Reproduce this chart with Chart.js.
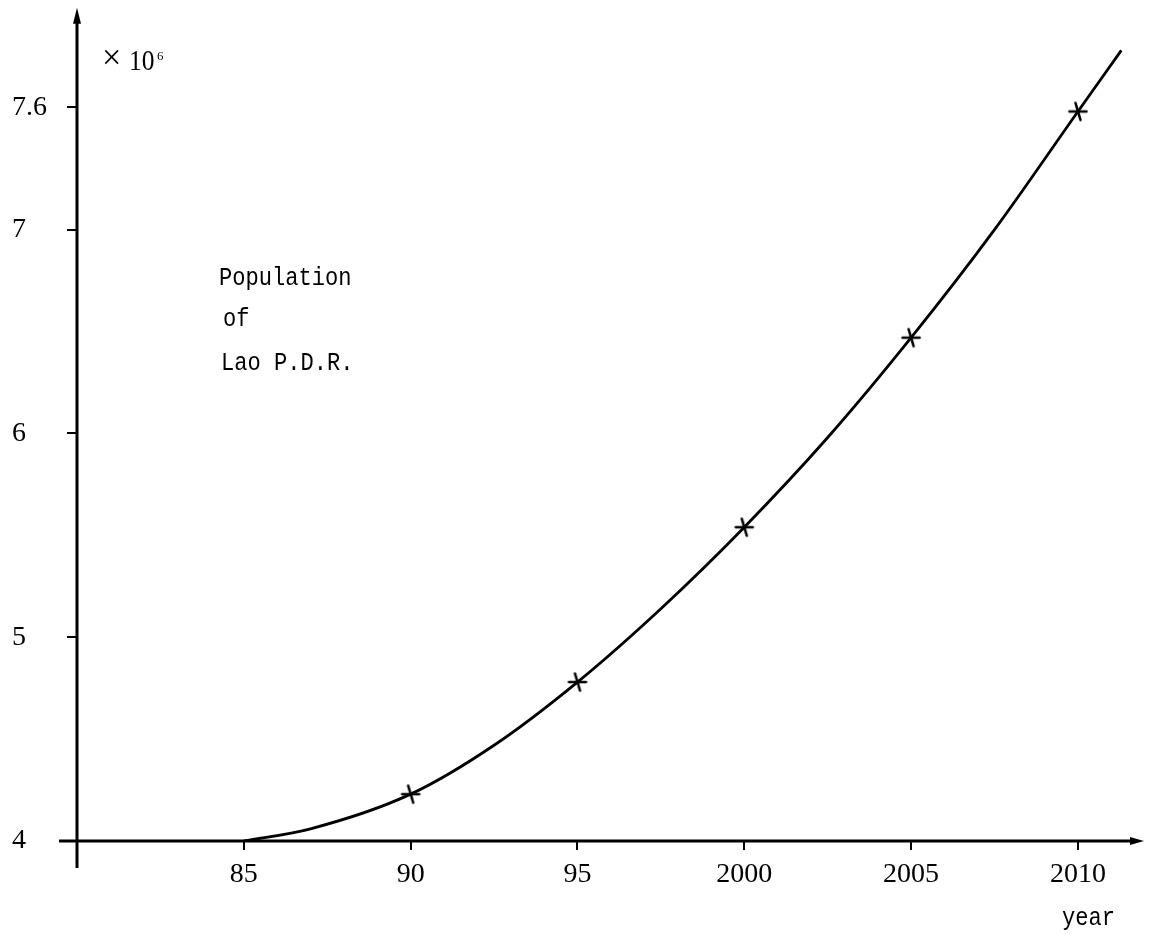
<!DOCTYPE html>
<html>
<head>
<meta charset="utf-8">
<script src="https://cdn.jsdelivr.net/npm/chart.js@4.4.1/dist/chart.umd.min.js"></script>
<style>
  html, body { margin: 0; padding: 0; background: #fff; }
  #wrap { width: 1149px; height: 934px; position: relative; }
</style>
</head>
<body>
<div id="wrap"><canvas id="c"></canvas></div>
<script>
// ---- data ----
const curveYears = [1985, 1987, 1990, 1992.5, 1995, 1997.5, 2000, 2002.5, 2005, 2007.5, 2010, 2011.3];
const curveValues = [4.00, 4.06, 4.23, 4.47, 4.78, 5.14, 5.54, 5.98, 6.47, 7.00, 7.58, 7.88];
const markerYears = [1990, 1995, 2000, 2005, 2010];
const markerValues = [4.23, 4.78, 5.54, 6.47, 7.58];
const xTickValues = [1985, 1990, 1995, 2000, 2005, 2010];
const xTickLabels = ['85', '90', '95', '2000', '2005', '2010'];
const yTickValues = [4, 5, 6, 7, 7.6];
const yTickLabels = ['4', '5', '6', '7', '7.6'];
const titleLines = ['Population', 'of', 'Lao P.D.R.'];
const unitSign = '\u00d7';
const unitBase = '10';
const unitExp = '6';
const xAxisName = 'year';

// ---- marker glyph ----
function makeMarker() {
  const cv = document.createElement('canvas');
  cv.width = 24; cv.height = 24;
  const g = cv.getContext('2d');
  g.strokeStyle = '#000';
  g.lineWidth = 2.6;
  g.lineCap = 'round';
  g.beginPath();
  g.moveTo(3.5, 12); g.lineTo(20.5, 12);
  g.moveTo(9.5, 3.5); g.lineTo(14.5, 20.5);
  g.stroke();
  return cv;
}

const curveData = curveYears.map((x, i) => ({ x: x, y: curveValues[i] }));
const markerData = markerYears.map((x, i) => ({ x: x, y: markerValues[i] }));

function condensedText(ctx, txt, x, y, font, sx) {
  ctx.save();
  ctx.font = font;
  ctx.translate(x, y);
  ctx.scale(sx, 1);
  ctx.fillText(txt, 0, 0);
  ctx.restore();
}

const decor = {
  id: 'decor',
  afterDraw(chart) {
    const ctx = chart.ctx;
    const xs = chart.scales.x, ys = chart.scales.y;
    const x0 = xs.getPixelForValue(xs.min);
    const x1 = xs.getPixelForValue(xs.max);
    const y0 = ys.getPixelForValue(ys.min);
    const y1 = ys.getPixelForValue(ys.max);
    ctx.save();
    ctx.strokeStyle = '#000';
    ctx.fillStyle = '#000';
    ctx.lineWidth = 3;
    // axis lines with extensions
    ctx.beginPath();
    ctx.moveTo(x0 - 18, y0); ctx.lineTo(x1, y0);
    ctx.moveTo(x0, y0 + 27); ctx.lineTo(x0, y1 - 2);
    ctx.stroke();
    // arrow heads
    ctx.beginPath();
    ctx.moveTo(x1 + 6, y0); ctx.lineTo(x1 - 8, y0 - 4); ctx.lineTo(x1 - 8, y0 + 4); ctx.closePath();
    ctx.fill();
    ctx.beginPath();
    ctx.moveTo(x0, y1 - 12); ctx.lineTo(x0 - 4, y1 + 4); ctx.lineTo(x0 + 4, y1 + 4); ctx.closePath();
    ctx.fill();
    // unit
    ctx.textBaseline = 'alphabetic';
    ctx.textAlign = 'left';
    condensedText(ctx, unitSign, 102, 69, '36px "Liberation Serif"', 0.95);
    condensedText(ctx, unitBase, 129, 70, '30px "Liberation Serif"', 0.85);
    condensedText(ctx, unitExp, 157, 60, '13px "Liberation Serif"', 1);
    // title block
    const mono = '26px "Liberation Mono"';
    condensedText(ctx, titleLines[0], 219, 285, mono, 0.85);
    condensedText(ctx, titleLines[1], 223, 326, mono, 0.85);
    condensedText(ctx, titleLines[2], 221, 370, mono, 0.85);
    // axis name
    condensedText(ctx, xAxisName, 1062, 925, mono, 0.85);
    ctx.restore();
  }
};

new Chart(document.getElementById('c'), {
  type: 'scatter',
  data: {
    datasets: [
      {
        type: 'line',
        data: curveData,
        borderColor: '#000',
        borderWidth: 2.8,
        pointRadius: 0,
        fill: false,
        cubicInterpolationMode: 'monotone'
      },
      {
        type: 'scatter',
        data: markerData,
        pointStyle: makeMarker(),
        pointRadius: 10
      }
    ]
  },
  options: {
    responsive: true,
    maintainAspectRatio: false,
    animation: false,
    devicePixelRatio: 1,
    layout: { padding: { left: 12, right: 9, top: 10, bottom: 0 } },
    plugins: { legend: { display: false }, tooltip: { enabled: false }, title: { display: false } },
    scales: {
      x: {
        type: 'linear',
        min: 1980,
        max: 2011.8,
        afterBuildTicks: (s) => { s.ticks = xTickValues.map(v => ({ value: v })); },
        afterFit: (s) => { s.height = 93; },
        border: { display: false },
        grid: { drawOnChartArea: false, drawTicks: true, tickLength: 9, color: '#000', lineWidth: 2 },
        ticks: {
          color: '#000',
          padding: 8,
          maxRotation: 0,
          autoSkip: false,
          font: { family: '"Liberation Serif"', size: 28 },
          callback: (v) => { const i = xTickValues.indexOf(v); return i >= 0 ? xTickLabels[i] : ''; }
        }
      },
      y: {
        type: 'linear',
        min: 4,
        max: 8.03,
        afterBuildTicks: (s) => { s.ticks = yTickValues.map(v => ({ value: v })); },
        afterFit: (s) => { s.width = 65; },
        border: { display: false },
        grid: { drawOnChartArea: false, drawTicks: true, tickLength: 10, color: '#000', lineWidth: 2 },
        ticks: {
          color: '#000',
          crossAlign: 'far',
          autoSkip: false,
          font: { family: '"Liberation Serif"', size: 28 },
          callback: (v) => { const i = yTickValues.indexOf(v); return i >= 0 ? yTickLabels[i] : ''; }
        }
      }
    }
  },
  plugins: [decor]
});
</script>
</body>
</html>
